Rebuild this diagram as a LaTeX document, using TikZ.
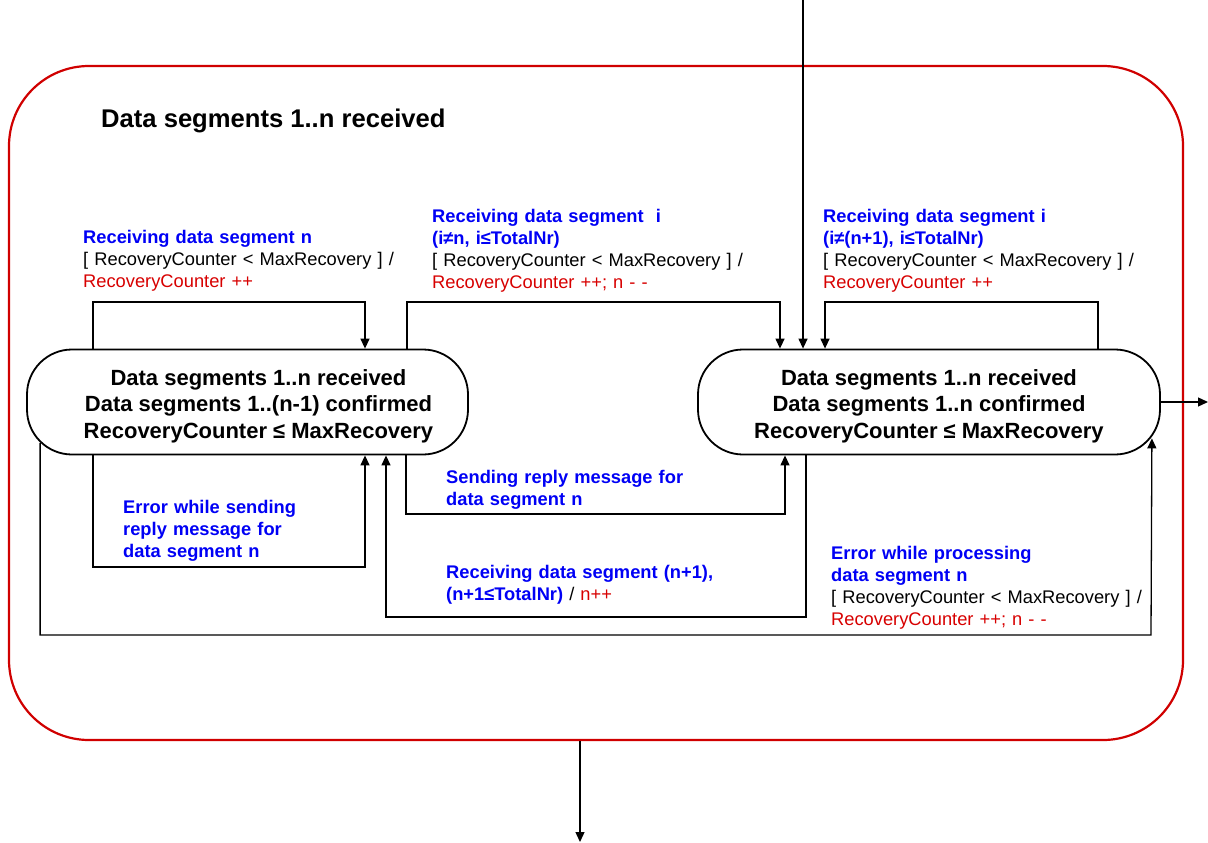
\documentclass[tikz,border=0pt]{standalone}
\usepackage{fontspec}
\setmainfont{Liberation Sans}
\usetikzlibrary{arrows.meta,calc}
\definecolor{evblue}{RGB}{0,0,245}
\definecolor{actred}{RGB}{215,0,0}
\definecolor{framered}{RGB}{208,0,0}

% event (trigger) text and action text inside transition labels
\newcommand\ev[1]{{\bfseries\color{evblue}#1}}
\newcommand\act[1]{{\color{actred}#1}}
% taller first line, so the three lines sit a little lower in the state
\newcommand\firstline{\rule{0pt}{24pt}}
% left state: its text stands somewhat right of the box centre
\newcommand\lpad{\hspace*{22pt}}

\tikzset{
  statebox/.style={draw, line width=1.8pt, rounded corners=45pt, fill=white,
    align=center, inner sep=0pt, minimum height=105pt,
    font=\fontsize{22}{26.5}\selectfont\bfseries},
  conn/.style={line width=1.3pt, -{Triangle[length=10pt,width=9pt]}},
  lbl/.style={anchor=base west, inner sep=0pt, text width=380pt, align=left,
    font=\fontsize{18.3}{22.3}\selectfont},
}

\begin{document}
\begin{tikzpicture}[x=1pt,y=-1pt]
\useasboundingbox (0,0) rectangle (1208,843);

% composite state
\node[draw=framered, line width=2.2pt, rounded corners=80pt,
      minimum width=1174pt, minimum height=674pt] (outer) at (596,403) {};
\node[anchor=base west, inner sep=0pt, font=\fontsize{25.6}{30}\selectfont\bfseries]
  (title) at (101,128) {Data segments 1..n received};

% sub-states
\node[statebox, minimum width=441pt] (s1) at (247.5,402)
  {\firstline\lpad Data segments 1..n received\\\lpad Data segments 1..(n-1) confirmed\\\lpad RecoveryCounter ≤ MaxRecovery};
\node[statebox, minimum width=462pt] (s2) at (929,402)
  {\firstline Data segments 1..n received\\Data segments 1..n confirmed\\RecoveryCounter ≤ MaxRecovery};

% free ends of the entry/exit connectors and points on the rounded corners
\coordinate (entry) at (803,0);
\coordinate (exitR) at (1208,402);
\coordinate (exitB) at (580,842);
\coordinate (s1c) at ($(s1.south west)+(14,-12.5)$);
\coordinate (s2c) at ($(s2.south east)+(-9,-17)$);

% entry and exits
\draw[conn] (entry) -- (s2.north -| entry);
\draw[conn] (s2.east) -- (exitR);
\draw[conn] (outer.south -| exitB) -- (exitB);

% transitions above the states
\draw[conn] (s1.north -| 93,0) |- (365,302) -- (s1.north -| 365,0);
\draw[conn] (s1.north -| 407,0) |- (780,302) -- (s2.north -| 780,0);
\draw[conn] (s2.north -| 1098,0) |- (825,302) -- (s2.north -| 825,0);

% transitions below the states
\draw[conn] (s1.south -| 93,0) |- (365,567) -- (s1.south -| 365,0);
\draw[conn] (s1.south -| 406,0) |- (785,514) -- (s2.south -| 785,0);
\draw[conn] (s2.south -| 806,0) |- (386,617) -- (s1.south -| 386,0);
\draw[conn] (s1c) |- (1151,635) -- (s2c);

% transition labels
\node[lbl] (l1) at (83,243)
  {\ev{Receiving data segment n}\\{}[ RecoveryCounter < MaxRecovery ] /\\\act{RecoveryCounter ++}};
\node[lbl] (l2) at (432,222)
  {\ev{Receiving data segment \ i}\\\ev{(i≠n, i≤TotalNr)}\\{}[ RecoveryCounter < MaxRecovery ] /\\\act{RecoveryCounter ++; n - -}};
\node[lbl] (l3) at (823,222)
  {\ev{Receiving data segment i}\\\ev{(i≠(n+1), i≤TotalNr)}\\{}[ RecoveryCounter < MaxRecovery ] /\\\act{RecoveryCounter ++}};
\node[lbl] (l6) at (123,513)
  {\ev{Error while sending}\\\ev{reply message for}\\\ev{data segment n}};
\node[lbl] (l7) at (446,483)
  {\ev{Sending reply message for}\\\ev{data segment n}};
\node[lbl] (l8) at (446,578)
  {\ev{Receiving data segment (n+1),}\\\ev{(n+1≤TotalNr)} / \act{n++}};
\node[lbl] (l9) at (831,559)
  {\ev{Error while processing}\\\ev{data segment n}\\{}[ RecoveryCounter < MaxRecovery ] /\\\act{RecoveryCounter ++; n - -}};
\end{tikzpicture}
\end{document}
